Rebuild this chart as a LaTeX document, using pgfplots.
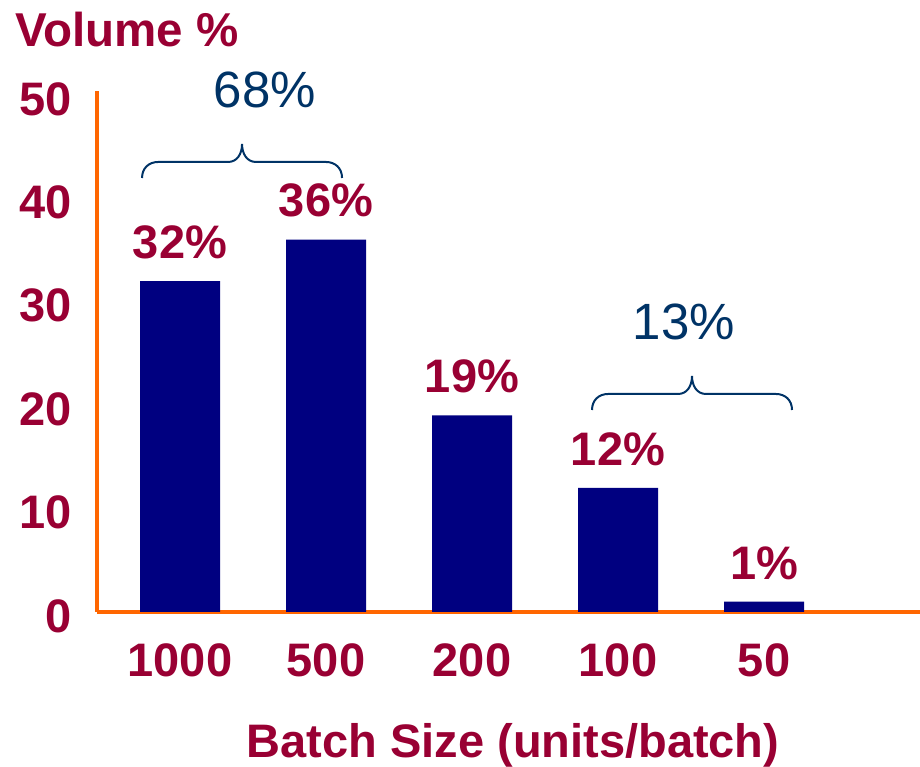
\documentclass[border=0pt]{standalone}
\usepackage{pgfplots}
\pgfplotsset{compat=1.18}
\usepackage{fontspec}
\setmainfont{Liberation Sans}
\definecolor{darkred}{RGB}{153,0,51}
\definecolor{barblue}{RGB}{0,0,128}
\definecolor{axisorange}{RGB}{255,102,0}
\definecolor{bracecol}{RGB}{0,51,102}
\newcommand\bigbrace[1]{%
  \draw[bracecol, line width=2pt] (#1)
    .. controls +(0pt,10pt) and +(-9pt,0pt) .. ++(16pt,16pt)
    -- ++(70pt,0pt)
    .. controls +(9pt,0pt) and +(0pt,-10pt) .. ++(14pt,18pt)
    .. controls +(0pt,-10pt) and +(-9pt,0pt) .. ++(14pt,-18pt)
    -- ++(70pt,0pt)
    .. controls +(9pt,0pt) and +(0pt,10pt) .. ++(16pt,-16pt);}
\begin{document}
\begin{tikzpicture}
\useasboundingbox (-97pt,-155pt) rectangle (823pt,612pt);
\begin{axis}[
  scale only axis, width=823pt, height=521.3pt,
  xmin=-0.5685, xmax=5.0685, ymin=0, ymax=50.4,
  axis x line*=bottom, axis y line*=left,
  axis line style={axisorange, line width=4pt, -},
  clip=false,
  ybar, bar width=80pt,
  xtick={0,1,2,3,4}, xticklabels={1000,500,200,100,50},
  ytick={0,10,20,30,40,50},
  major tick length=0pt,
  /pgf/number format/assume math mode=true,
  ticklabel style={font=\bfseries\fontsize{47}{47}\selectfont, text=darkred, inner sep=0pt},
  yticklabel style={anchor=east, xshift=-25pt, yshift=-4pt},
  xticklabel style={anchor=north, yshift=-31pt},
  nodes near coords={\pgfmathprintnumber{\pgfplotspointmeta}\%},
  nodes near coords style={font=\bfseries\fontsize{47}{47}\selectfont, text=darkred, anchor=south, inner sep=0pt, yshift=22pt},
  xlabel={Batch Size (units/batch)},
  xlabel style={at={(axis description cs:0.5055,0)}, anchor=base, yshift=-145pt, font=\bfseries\fontsize{47}{47}\selectfont, text=darkred, inner sep=0pt},
  ylabel={Volume \%},
  ylabel style={rotate=-90, at={(axis description cs:0,1)}, anchor=base west, xshift=-82pt, yshift=43.7pt, font=\bfseries\fontsize{47.5}{47.5}\selectfont, text=darkred, inner sep=0pt},
]
\addplot[fill=barblue, draw=none] coordinates {(0,32) (1,36) (2,19) (3,12) (4,1)};
\coordinate (b1) at (axis cs:-0.260,41.96);
\coordinate (b2) at (axis cs:2.822,19.53);
\node[anchor=base, text=bracecol, inner sep=0pt, font=\fontsize{51}{51}\selectfont] at (axis cs:0.582,48.73) {68\%};
\node[anchor=base, text=bracecol, inner sep=0pt, font=\fontsize{51}{51}\selectfont] at (axis cs:3.452,26.30) {13\%};
\end{axis}
\bigbrace{b1}
\bigbrace{b2}
\end{tikzpicture}
\end{document}
